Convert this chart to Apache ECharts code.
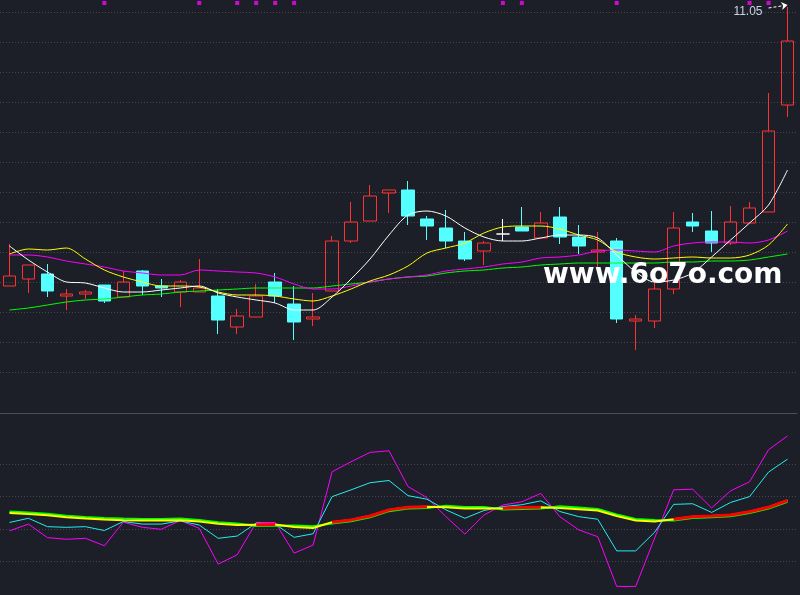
<!DOCTYPE html>
<html lang="zh">
<head>
<meta charset="UTF-8">
<title>K线</title>
<script src="https://cdn.jsdelivr.net/npm/echarts@6/dist/echarts.min.js"></script>
<style>
    html, body { margin: 0; padding: 0; background: #1c1f28; }
    #main { width: 800px; height: 595px; }
</style>
</head>
<body>
<div id="main"></div>
<script type="text/javascript">
// K线：开 收 低 高
var open  = [8.26, 8.33, 8.38, 8.16, 8.18, 8.27, 8.15, 8.41, 8.26, 8.20, 8.20, 8.16, 7.85, 7.95, 8.30, 8.08, 7.93, 8.21, 8.71, 8.91, 9.19,
             9.22, 8.93, 8.84, 8.71, 8.61, 8.78, 8.85, 8.74, 8.95, 8.75, 8.60, 8.71, 7.91, 7.91, 8.23, 8.90, 8.81, 8.69, 8.89, 9.00, 10.07];
var close = [8.36, 8.47, 8.21, 8.18, 8.20, 8.11, 8.30, 8.26, 8.24, 8.30, 8.24, 7.92, 7.96, 8.16, 8.16, 7.90, 7.95, 8.71, 8.90, 9.16, 9.22,
             8.96, 8.86, 8.71, 8.53, 8.69, 8.78, 8.81, 8.89, 8.75, 8.66, 8.62, 7.93, 7.93, 8.23, 8.84, 8.86, 8.69, 8.90, 9.04, 9.81, 10.71];
var low   = [8.26, 8.19, 8.15, 8.02, 8.13, 8.09, 8.15, 8.17, 8.15, 8.05, 8.20, 7.78, 7.78, 7.95, 8.09, 7.72, 7.86, 8.21, 8.69, 8.91, 8.99,
             8.87, 8.72, 8.64, 8.51, 8.47, 8.71, 8.81, 8.74, 8.68, 8.58, 8.42, 7.89, 7.62, 7.84, 8.18, 8.80, 8.60, 8.67, 8.89, 9.00, 9.95];
var high  = [8.68, 8.47, 8.48, 8.23, 8.22, 8.27, 8.41, 8.42, 8.33, 8.32, 8.53, 8.23, 8.03, 8.28, 8.39, 8.26, 8.19, 8.76, 9.10, 9.27, 9.22,
             9.31, 8.96, 9.02, 8.80, 8.71, 8.93, 9.05, 9.00, 9.05, 8.87, 8.80, 8.74, 7.97, 8.31, 9.00, 8.99, 9.01, 9.06, 9.10, 10.19, 11.05];

// 均线
var ma5  = [8.66, 8.52, 8.40, 8.30, 8.29, 8.24, 8.20, 8.20, 8.22, 8.24, 8.26, 8.19, 8.15, 8.12, 8.09, 8.02, 8.02, 8.15, 8.33, 8.53, 8.77,
            8.97, 9.01, 8.96, 8.84, 8.75, 8.71, 8.71, 8.74, 8.77, 8.77, 8.74, 8.57, 8.40, 8.30, 8.32, 8.39, 8.55, 8.72, 8.89, 9.07, 9.42];
var ma10 = [8.58, 8.63, 8.62, 8.64, 8.53, 8.42, 8.35, 8.30, 8.26, 8.26, 8.25, 8.20, 8.17, 8.17, 8.16, 8.13, 8.11, 8.16, 8.23, 8.31, 8.37,
            8.46, 8.59, 8.64, 8.69, 8.79, 8.85, 8.86, 8.86, 8.83, 8.77, 8.72, 8.60, 8.55, 8.53, 8.54, 8.55, 8.54, 8.54, 8.57, 8.67, 8.88];
var ma20 = [8.57, 8.57, 8.55, 8.51, 8.48, 8.45, 8.41, 8.39, 8.37, 8.37, 8.42, 8.41, 8.40, 8.39, 8.35, 8.28, 8.23, 8.23, 8.26, 8.30, 8.33,
            8.35, 8.37, 8.41, 8.43, 8.45, 8.48, 8.50, 8.54, 8.55, 8.57, 8.61, 8.62, 8.61, 8.60, 8.66, 8.69, 8.70, 8.70, 8.69, 8.72, 8.81];
var ma60 = [8.02, 8.04, 8.07, 8.10, 8.12, 8.13, 8.15, 8.17, 8.18, 8.20, 8.21, 8.22, 8.23, 8.24, 8.24, 8.24, 8.24, 8.26, 8.28, 8.30, 8.33,
            8.35, 8.36, 8.39, 8.41, 8.42, 8.44, 8.45, 8.47, 8.48, 8.49, 8.49, 8.49, 8.49, 8.49, 8.50, 8.50, 8.51, 8.51, 8.52, 8.55, 8.58];

// 顶部信号点
var signalIdx = [5, 10, 12, 13, 14, 15, 26, 27, 32, 39, 40];
var signalLevel = 11.09;
var maxHigh = 11.05;

// 副图指标
var fast = [-0.06, 0.15, -0.27, -0.32, -0.29, -0.52, 0.21, 0.05, -0.01, 0.26, 0.02, -1.09, -0.80, 0.20, 0.20, -0.75, -0.50, 1.77, 2.08, 2.37, 2.42,
            1.31, 0.97, 0.38, -0.16, 0.43, 0.74, 0.84, 1.10, 0.38, -0.03, -0.24, -1.78, -1.78, -0.28, 1.21, 1.23, 0.65, 1.18, 1.46, 2.45, 2.88];
var mid  = [0.20, 0.33, 0.07, 0.05, 0.07, -0.05, 0.23, 0.15, 0.15, 0.25, 0.12, -0.29, -0.22, 0.18, 0.15, -0.26, -0.15, 1.00, 1.21, 1.43, 1.50,
            1.03, 0.92, 0.59, 0.33, 0.57, 0.69, 0.75, 0.87, 0.54, 0.38, 0.30, -0.68, -0.68, -0.10, 0.76, 0.78, 0.51, 0.82, 1.00, 1.76, 2.16];
var trend = [0.49, 0.46, 0.42, 0.36, 0.32, 0.29, 0.27, 0.26, 0.26, 0.27, 0.23, 0.16, 0.12, 0.13, 0.14, 0.06, 0.03, 0.21, 0.28, 0.40, 0.59,
             0.67, 0.69, 0.67, 0.63, 0.63, 0.64, 0.66, 0.67, 0.65, 0.61, 0.57, 0.40, 0.26, 0.23, 0.30, 0.38, 0.40, 0.43, 0.53, 0.67, 0.88];
var trendRef = [0.54, 0.51, 0.47, 0.41, 0.37, 0.34, 0.32, 0.31, 0.31, 0.32, 0.28, 0.21, 0.17, 0.09, 0.10, 0.11, 0.08, 0.17, 0.24, 0.36, 0.55,
                0.63, 0.65, 0.72, 0.68, 0.68, 0.60, 0.62, 0.63, 0.70, 0.66, 0.62, 0.45, 0.31, 0.28, 0.26, 0.34, 0.36, 0.39, 0.49, 0.63, 0.84];
// 趋势线变红的区段（起止序号）
var redRanges = [[13, 14], [17, 22], [26, 28], [35, 41]];

var cats = open.map(function (v, i) { return String(i + 1); });
var kData = open.map(function (v, i) { return [open[i], close[i], low[i], high[i]]; });
var signals = signalIdx.map(function (i) { return [cats[i], signalLevel]; });
var trendRed = trend.map(function (v, i) {
    for (var k = 0; k < redRanges.length; k++) {
        if (i >= redRanges[k][0] && i <= redRanges[k][1]) return v;
    }
    return null;
});

var gridDot = { color: '#434752', type: [1, 2], width: 1 };

var myChart = echarts.init(document.getElementById('main'));
var option = {
    backgroundColor: '#1c1f28',
    animation: false,
    grid: [
        { left: -1, right: 3, top: 0, height: 372 },
        { left: -1, right: 3, top: 464.33, height: 96.9 }
    ],
    xAxis: [
        { type: 'category', data: cats, gridIndex: 0, boundaryGap: true,
          axisLine: { show: false }, axisTick: { show: false }, axisLabel: { show: false }, splitLine: { show: false } },
        { type: 'category', data: cats, gridIndex: 1, boundaryGap: true, position: 'top', offset: 51.3,
          axisLine: { show: true, onZero: false, lineStyle: { color: '#4b4e57', width: 1 } },
          axisTick: { show: false }, axisLabel: { show: false }, splitLine: { show: false } }
    ],
    yAxis: [
        { type: 'value', gridIndex: 0, min: 7.4, max: 11.12, interval: 0.3,
          axisLine: { show: false }, axisTick: { show: false }, axisLabel: { show: false },
          splitLine: { show: true, showMaxLine: false, lineStyle: gridDot } },
        { type: 'value', gridIndex: 1, min: -1, max: 2, interval: 1,
          axisLine: { show: false }, axisTick: { show: false }, axisLabel: { show: false },
          splitLine: { show: true, lineStyle: gridDot } }
    ],
    graphic: [{
        type: 'text', z: 100, x: 543, y: 276,
        style: { text: 'www.6o7o.com', font: 'bold 28px "DejaVu Sans"', fill: '#ffffff',
                 textAlign: 'left', textVerticalAlign: 'middle' }
    }],
    series: [
        {
            type: 'candlestick', xAxisIndex: 0, yAxisIndex: 0, data: kData, barWidth: 13,
            itemStyle: {
                color: 'transparent', color0: '#54ffff',
                borderColor: '#ff3232', borderColor0: '#54ffff', borderColorDoji: '#ffffff', borderWidth: 1
            },
            markLine: {
                silent: true, symbol: ['none', 'arrow'], symbolSize: 6,
                lineStyle: { color: '#ffffff', type: [3, 2], width: 1 },
                label: { show: false },
                data: [[{ coord: [cats[40], 11.04] }, { coord: [cats[41], 11.07] }]]
            },
            markPoint: {
                silent: true, symbol: 'rect', symbolSize: 0,
                label: { show: true, position: 'left', distance: 6, formatter: String(maxHigh),
                         color: '#c9d3e3', fontSize: 12 },
                data: [{ coord: [cats[40], 11.0] }]
            }
        },
        { type: 'line', name: 'MA60', data: ma60, symbol: 'none', smooth: 0.3,
          lineStyle: { color: '#00ff00', width: 1 } },
        { type: 'line', name: 'MA20', data: ma20, symbol: 'none', smooth: 0.3,
          lineStyle: { color: '#ff00ff', width: 1 } },
        { type: 'line', name: 'MA10', data: ma10, symbol: 'none', smooth: 0.3,
          lineStyle: { color: '#ffff00', width: 1 } },
        { type: 'line', name: 'MA5', data: ma5, symbol: 'none', smooth: 0.3,
          lineStyle: { color: '#ffffff', width: 1 } },
        { type: 'scatter', data: signals, symbol: 'rect', symbolSize: 4,
          itemStyle: { color: '#ff00ff' } },

        { type: 'line', xAxisIndex: 1, yAxisIndex: 1, data: fast, symbol: 'none', clip: false,
          lineStyle: { color: '#ff00ff', width: 1 } },
        { type: 'line', xAxisIndex: 1, yAxisIndex: 1, data: mid, symbol: 'none', clip: false,
          lineStyle: { color: '#22eeee', width: 1 } },
        { type: 'line', xAxisIndex: 1, yAxisIndex: 1, data: trendRef, symbol: 'none', clip: false,
          lineStyle: { color: '#00ff00', width: 2 } },
        { type: 'line', xAxisIndex: 1, yAxisIndex: 1, data: trend, symbol: 'none', clip: false,
          lineStyle: { color: '#ffff00', width: 2 } },
        { type: 'line', xAxisIndex: 1, yAxisIndex: 1, data: trendRed, symbol: 'none', clip: false, connectNulls: false,
          lineStyle: { color: '#ff0000', width: 3 } }
    ]
};
myChart.setOption(option);
</script>
</body>
</html>
